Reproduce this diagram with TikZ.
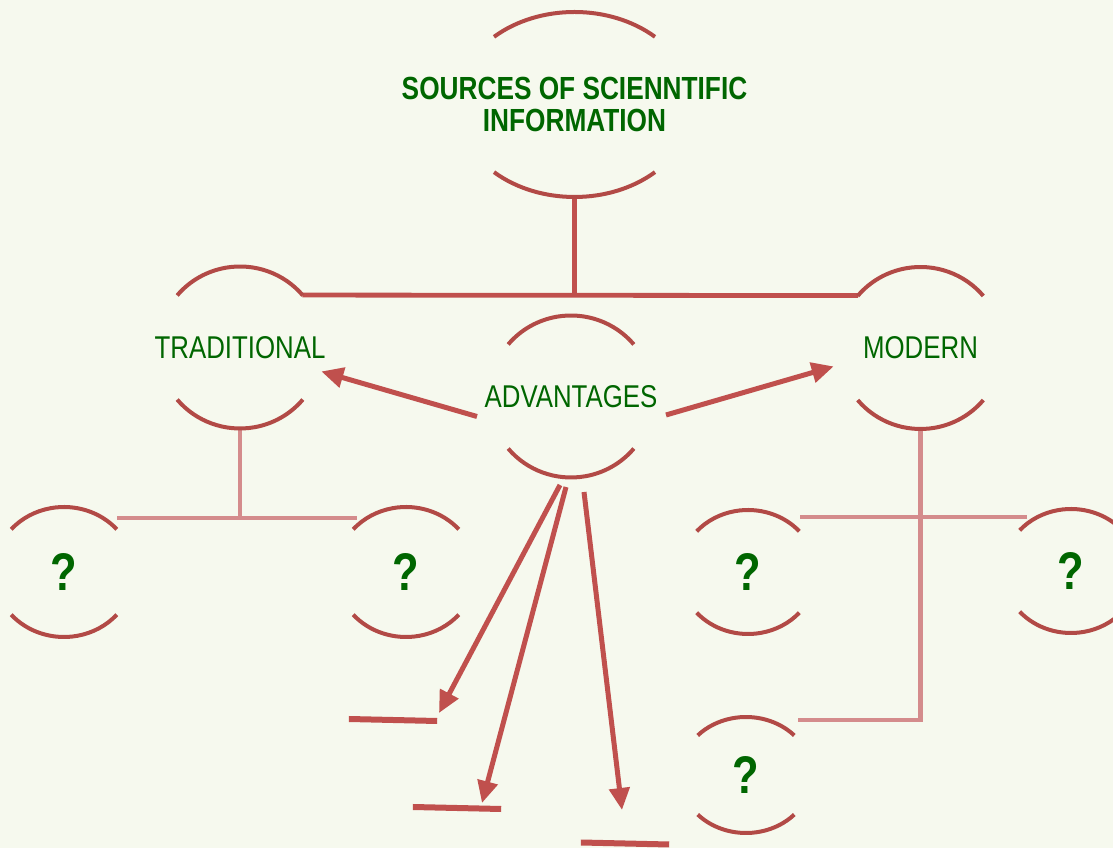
\documentclass[tikz,border=0pt]{standalone}
\usepackage{fontspec}
\setmainfont{Liberation Sans}[FakeStretch=0.82]
\usepackage{tikz}
\usetikzlibrary{shapes,arrows.meta}
\definecolor{paper}{RGB}{246,249,238}
\definecolor{brick}{RGB}{178,74,70}
\definecolor{rust}{RGB}{192,80,77}
\definecolor{blush}{RGB}{212,140,140}
\definecolor{leaf}{RGB}{0,102,0}

% top and bottom arcs round a node: name, x radius, y radius, angle
\newcommand\bowarcs[4]{%
  \draw[ArcStyle] ([shift={(#4:#2 and #3)}]#1.center) arc[start angle=#4, end angle=180-#4, x radius=#2, y radius=#3]
    ([shift={(180+#4:#2 and #3)}]#1.center) arc[start angle=180+#4, end angle=360-#4, x radius=#2, y radius=#3];}

\begin{document}
\begin{tikzpicture}[x=1pt,y=1pt]
  \tikzset{HubStyle/.style = {
    shape         = ellipse,
    draw          = none,
    inner sep     = 0pt,
    outer sep     = 0pt,
    minimum width = 164pt,
    minimum height= 162pt
    }
  }
  \tikzset{TopStyle/.style = {HubStyle,
    minimum width = 236pt,
    minimum height= 185pt
    }
  }
  \tikzset{QuestStyle/.style = {HubStyle,
    minimum width = 140pt,
    minimum height= 130pt
    }
  }
  \tikzset{LabelStyle/.style = {
    text          = leaf,
    font          = \fontsize{31.5}{33}\selectfont
    }
  }
  \tikzset{TitleStyle/.style = {
    text          = leaf,
    align         = center,
    font          = \bfseries\fontsize{32}{32.5}\selectfont
    }
  }
  \tikzset{MarkStyle/.style = {
    text          = leaf,
    font          = \bfseries\fontsize{53}{55}\selectfont
    }
  }
  \tikzset{ArcStyle/.style = {
    draw          = brick,
    line width    = 4pt
    }
  }
  \tikzset{LinkStyle/.style = {
    draw          = rust,
    line width    = 4.8pt
    }
  }
  \tikzset{SubLinkStyle/.style = {
    draw          = blush,
    line width    = 4.5pt
    }
  }
  \tikzset{ArrowStyle/.style = {
    draw          = rust,
    line width    = 5pt,
    -{Triangle[length=22pt,width=20pt]}
    }
  }
  \tikzset{BlankStyle/.style = {
    shape         = rectangle,
    draw          = none,
    inner sep     = 0pt,
    minimum width = 88pt,
    minimum height= 0pt,
    rotate        = -1.3
    }
  }

  \fill[paper] (0,0) rectangle (1113,848);
  \useasboundingbox (0,0) rectangle (1113,848);
  \clip (0,0) rectangle (1113,848);

	\node[TopStyle, label={[TitleStyle]center:SOURCES OF SCIENNTIFIC\\INFORMATION}](src) at (574.5, 743.5) {};
	\node[HubStyle, label={[LabelStyle]center:TRADITIONAL}](trad) at (240, 500.5) {};
	\node[HubStyle, label={[LabelStyle]center:ADVANTAGES}](adv) at (571, 451.5) {};
	\node[HubStyle, label={[LabelStyle]center:MODERN}](mod) at (920.5, 500) {};
	\node[QuestStyle, label={[MarkStyle]center:?}](q1) at (64, 276) {};
	\node[QuestStyle, label={[MarkStyle]center:?}](q2) at (406, 276) {};
	\node[QuestStyle, minimum width=136pt, minimum height=124pt, label={[MarkStyle]center:?}](q3) at (748, 276) {};
	\node[QuestStyle, minimum width=136pt, minimum height=124pt, label={[MarkStyle]center:?}](q4) at (1071, 277) {};
	\node[QuestStyle, minimum width=132pt, minimum height=116pt, label={[MarkStyle]center:?}](q5) at (746, 73) {};
	\node[BlankStyle](b1) at (393, 128) {};
	\node[BlankStyle](b2) at (457, 40) {};
	\node[BlankStyle](b3) at (625, 4.5) {};

	\draw[LinkStyle](src.south) to (src.south |- trad.40);
	\draw[LinkStyle](trad.40) to (mod.140);

	\draw[SubLinkStyle](trad.south) -- ++(0,-89.5) coordinate (tj);
	\draw[SubLinkStyle]([xshift=4pt]q1.north east |- tj) to (q2.north west |- tj);
	\draw[SubLinkStyle](mod.south) -- ++(0,-88) coordinate (mk) -- ++(0,-203) coordinate (mj) -- ([xshift=5pt]mj -| q5.north east);
	\draw[SubLinkStyle]([xshift=4pt]q3.north east |- mk) to ([xshift=4pt]q4.north west |- mk);

	\bowarcs{src}{118}{92.5}{47}
	\bowarcs{trad}{82}{81}{40}
	\bowarcs{adv}{82}{81}{40}
	\bowarcs{mod}{82}{81}{40}
	\bowarcs{q1}{70}{65}{41}
	\bowarcs{q2}{70}{65}{41}
	\bowarcs{q3}{68}{62}{41}
	\bowarcs{q4}{68}{62}{41}
	\bowarcs{q5}{66}{58}{43}

	\draw[ArrowStyle]([shift={(-94,-20)}]adv.center) to ([xshift=3pt]trad.-17);
	\draw[ArrowStyle]([shift={(95,-18.5)}]adv.center) to ([xshift=-7pt]mod.193);
	\draw[ArrowStyle]([shift={(-11,-7.5)}]adv.south) to ([shift={(46,7)}]b1.center);
	\draw[ArrowStyle]([shift={(-5,-9.5)}]adv.south) to ([shift={(25,5)}]b2.center);
	\draw[ArrowStyle]([shift={(13,-14.5)}]adv.south) to ([shift={(-3,33.5)}]b3.center);

	\draw[LinkStyle, line width=6pt](b1.west) to (b1.east);
	\draw[LinkStyle, line width=6pt](b2.west) to (b2.east);
	\draw[LinkStyle, line width=6pt](b3.west) to (b3.east);

\end{tikzpicture}
\end{document}
